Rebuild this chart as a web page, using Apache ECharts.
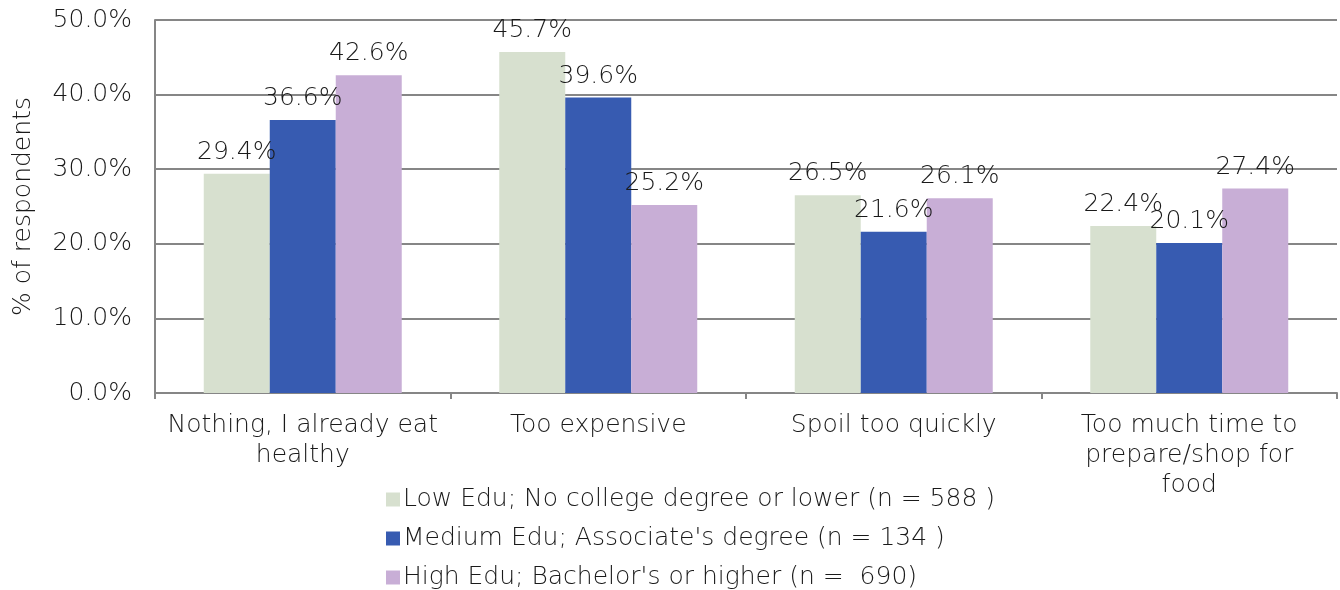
<!DOCTYPE html>
<html><head><meta charset="utf-8">
<script src="https://cdn.jsdelivr.net/npm/echarts@6/dist/echarts.min.js"></script>
<style>html,body{margin:0;padding:0;background:#fff}#c{width:1340px;height:590px}</style>
</head><body><div id="c"></div>
<script>
const categories = ['Nothing, I already eat\nhealthy', 'Too expensive', 'Spoil too quickly', 'Too much time to\nprepare/shop for\nfood'];
const seriesNames = ['Low Edu; No college degree or lower (n = 588 )', "Medium Edu; Associate's degree (n = 134 )", "High Edu; Bachelor's or higher (n =  690)"];
const lowEdu = [29.4, 45.7, 26.5, 22.4];
const mediumEdu = [36.6, 39.6, 21.6, 20.1];
const highEdu = [42.6, 25.2, 26.1, 27.4];
const colors = ['#D7E0CF', '#375BB1', '#C8AED6'];
const FONT = 'DejaVu Sans';
const FW = 200;
const TXT = '#1a1a1a';
const chart = echarts.init(document.getElementById('c'));
const mk = (name, data, color) => ({
  name, type: 'bar', data, barGap: '0%', barCategoryGap: '33%',
  itemStyle: {color},
  label: {show: true, position: 'top', distance: 9, formatter: p => p.value.toFixed(1) + '%',
    fontFamily: FONT, fontWeight: FW, fontSize: 25, color: TXT}
});
chart.setOption({
  animation: false,
  textStyle: {fontFamily: FONT, fontWeight: FW},
  grid: {left: 155, right: 3, top: 20, bottom: 197, containLabel: false},
  xAxis: {type: 'category', data: categories,
    axisLine: {lineStyle: {color: '#868686', width: 2}},
    axisTick: {show: true, length: 6, lineStyle: {color: '#868686', width: 2}},
    axisLabel: {fontFamily: FONT, fontWeight: FW, fontSize: 25, color: TXT, margin: 17, lineHeight: 30, interval: 0}},
  yAxis: {type: 'value', min: 0, max: 50, interval: 10,
    name: '% of respondents', nameLocation: 'middle', nameGap: 119, nameRotate: 90,
    nameTextStyle: {fontFamily: FONT, fontWeight: FW, fontSize: 25, color: TXT},
    axisLine: {show: true, lineStyle: {color: '#868686', width: 2}},
    axisTick: {show: false},
    splitLine: {lineStyle: {color: '#868686', width: 2}},
    axisLabel: {fontFamily: FONT, fontWeight: FW, fontSize: 25, color: TXT, margin: 23, formatter: v => v.toFixed(1) + '%'}},
  legend: {orient: 'vertical', left: 381, top: 482, height: 120, itemGap: 14, itemWidth: 14, itemHeight: 14, icon: 'rect',
    textStyle: {fontFamily: FONT, fontWeight: FW, fontSize: 25, color: TXT, padding: [0,0,0,-2]}, data: seriesNames},
  series: [mk(seriesNames[0], lowEdu, colors[0]), mk(seriesNames[1], mediumEdu, colors[1]), mk(seriesNames[2], highEdu, colors[2])]
});
</script></body></html>
